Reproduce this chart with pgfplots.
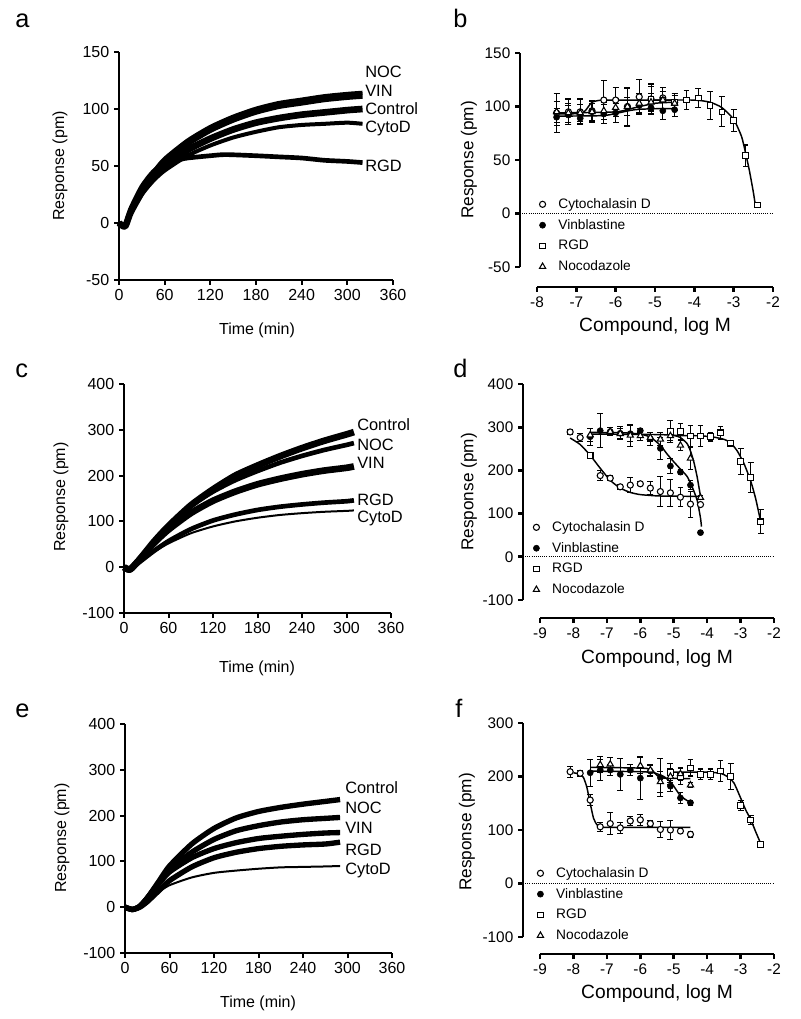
\documentclass[border=0pt]{standalone}
\usepackage{fontspec}
\setmainfont{Liberation Sans}
\usepackage{pgfplots}
\pgfplotsset{compat=1.18}
\pgfplotsset{
  panel/.style={scale only axis, anchor=south west, tick align=outside, major tick length=3.75pt,
    axis line style={line width=1.5pt}, every tick/.style={line width=1.5pt, black},
    tick label style={font=\fontsize{12}{14}\selectfont}, clip=false},
  kin/.style={panel, axis x line*=bottom, axis y line*=left, xmin=0, xmax=360,
    xtick={0,60,...,360}, xticklabels={0,60,120,180,240,300,360}},
  dr/.style={panel, axis x line=none, axis y line*=left, xmax=-2,
    axis line style={line width=2pt}, every tick/.style={line width=2pt, black},
    tick label style={font=\fontsize{11.5}{13}\selectfont},
    legend cell align=left,
    legend style={draw=none, fill=none, font=\fontsize{10.3}{12}\selectfont, row sep=2.7pt, anchor=north west}},
  xax/.style={panel, axis y line=none, axis x line*=bottom, height=1pt, ymin=0, ymax=1, xmax=-2,
    axis line style={line width=2pt}, every tick/.style={line width=2pt, black},
    tick label style={font=\fontsize{11.5}{13}\selectfont}, ytick=\empty},
  band/.style={line width=#1, line join=round, black, smooth, tension=0.4},
  fit/.style={line width=1.1pt, black, forget plot, smooth, tension=0.35},
  zero/.style={densely dotted, line width=0.6pt, black, forget plot},
  eb/.style={error bars/y dir=both, error bars/y explicit,
    error bars/error bar style={line width=0.8pt, black},
    error bars/error mark options={rotate=90, mark size=2.2pt, line width=0.8pt, black}},
  cd/.style={only marks, mark=*, mark size=2.3pt, mark options={fill=white, draw=black, line width=0.8pt}, eb},
  vb/.style={only marks, mark=*, mark size=2.3pt, mark options={fill=black, draw=black}, eb},
  rg/.style={only marks, mark=square*, mark size=2.1pt, mark options={fill=white, draw=black, line width=0.8pt}, eb},
  nc/.style={only marks, mark=triangle*, mark size=2.7pt, mark options={fill=white, draw=black, line width=0.8pt}, eb},
}
\newcommand{\lab}{\fontsize{12.3}{14}\selectfont}
\newcommand{\axl}{\fontsize{12}{14}\selectfont}
\newcommand{\axb}{\fontsize{14.4}{17}\selectfont}
\newcommand{\axr}{\fontsize{12.9}{15}\selectfont}
\newcommand{\lgsp}[1]{\hspace*{7.5pt}#1}
\begin{document}
\begin{tikzpicture}[x=0.75pt,y=-0.75pt]
\useasboundingbox (0,0) rectangle (800,1019);

% ---------------- panel a ----------------
\begin{axis}[kin, at={(89.25pt,-210pt)}, width=205.5pt, height=171pt,
  ymin=-50, ymax=150, ytick={-50,0,50,100,150}, yticklabels={-50,0,50,100,150}]
\addplot[band=5pt] coordinates {(0,0)(8,-3)(15,9)(30,27)(45,40)(60,50)(90,64)(120,74)(150,82)(180,88)(210,92)(240,95)(270,97)(300,99)(320,100)};
\addplot[band=3pt] coordinates {(0,0)(8,-3)(15,8)(30,25)(45,37)(60,46)(90,59)(120,68)(150,75)(180,80)(210,84)(240,86)(270,87)(300,88)(320,87)};
\addplot[band=3.5pt] coordinates {(0,0)(8,-3)(15,12)(30,32)(45,45)(60,52)(75,55)(90,57)(120,59)(140,60)(180,59)(210,58)(240,57)(270,55)(300,54)(320,53)};
\addplot[band=3.5pt] coordinates {(0,0)(8,-3)(15,9)(30,28)(45,42)(60,53)(90,69)(120,81)(150,90)(180,97)(210,102)(240,105)(270,108)(300,110)(320,111)};
\addplot[band=3.5pt] coordinates {(0,0)(8,-3)(15,10)(30,30)(45,44)(60,56)(90,72)(120,84)(150,93)(180,100)(210,105)(240,108)(270,111)(300,113)(320,114)};
\end{axis}

% ---------------- panel b ----------------
\begin{axis}[dr, at={(390pt,-200.25pt)}, width=189.75pt, height=160.5pt,
  xmin=-8.43, ymin=-50, ymax=150, ytick={-50,0,50,100,150}, yticklabels={-50,0,50,100,150},
  legend style={at={(0.06,0.347)}}]
\addplot[zero] coordinates {(-8.43,0)(-2,0)};
\addplot[fit] coordinates {(-7.5,93)(-7.0,93.3)(-6.8,95)(-6.7,99.5)(-6.6,104)(-6.4,105.8)(-6.0,106)(-4.5,106)};
\addplot[fit] coordinates {(-7.5,91)(-6.5,91.3)(-6.2,92)(-6.0,93.5)(-5.8,95)(-5.6,96.5)(-5.4,97.4)(-5.0,97.9)(-4.5,98)};
\addplot[fit] coordinates {(-7.5,94)(-6.0,95)(-5.5,99)(-5.0,103)(-4.5,104)};
\addplot[fit] coordinates {(-5.1,106)(-4.0,106)(-3.6,104)(-3.3,99)(-3.0,88)(-2.8,72)(-2.7,57)(-2.6,40)(-2.5,20)(-2.45,8)};
\addplot[cd] coordinates {(-7.5,94)+-(0,18)(-7.2,95)+-(0,12)(-6.9,95)+-(0,12)(-6.6,96)+-(0,10)(-6.3,106)+-(0,18)(-6.0,106)+-(0,12)(-5.7,100)+-(0,18)(-5.4,109)+-(0,16)(-5.1,107)+-(0,14)(-4.8,108)+-(0,10)(-4.5,104)+-(0,8)};
\addlegendentry{\lgsp{Cytochalasin D}}
\addplot[vb] coordinates {(-7.5,90)+-(0,8)(-7.2,92)+-(0,9)(-6.9,89)+-(0,5)(-6.6,95)+-(0,8)(-6.3,93)+-(0,9)(-6.0,94)+-(0,9)(-5.7,99)+-(0,18)(-5.4,101)+-(0,8)(-5.1,99)+-(0,6)(-4.8,96)+-(0,8)(-4.5,97)+-(0,6)};
\addlegendentry{\lgsp{Vinblastine}}
\addplot[rg] coordinates {(-5.1,107)+-(0,12)(-4.8,106)+-(0,8)(-4.5,104)+-(0,8)(-4.2,106)+-(0,9)(-3.9,108)+-(0,9)(-3.6,101)+-(0,13)(-3.3,95)+-(0,14)(-3.0,87)+-(0,10)(-2.7,54)+-(0,10)(-2.4,8)+-(0,2)};
\addlegendentry{\lgsp{RGD}}
\addplot[nc] coordinates {(-7.5,95)+-(0,10)(-7.2,94)+-(0,9)(-6.9,94)+-(0,8)(-6.6,95)+-(0,10)(-6.3,96)+-(0,8)(-6.0,99)+-(0,8)(-5.7,100)+-(0,8)(-5.4,103)+-(0,9)(-5.1,104)+-(0,8)(-4.8,106)+-(0,8)(-4.5,103)+-(0,7)};
\addlegendentry{\lgsp{Nocodazole}}
\end{axis}
\begin{axis}[xax, at={(402.75pt,-215.25pt)}, width=177pt, xmin=-8,
  xtick={-8,-7,...,-2}, xticklabels={-8,-7,-6,-5,-4,-3,-2}]
\end{axis}

% ---------------- panel c ----------------
\begin{axis}[kin, at={(93pt,-459.75pt)}, width=200.25pt, height=171.75pt,
  ymin=-100, ymax=400, ytick={-100,0,...,400}, yticklabels={-100,0,100,200,300,400}]
\addplot[band=5pt] coordinates {(0,0)(8,-5)(20,15)(40,55)(60,90)(90,135)(120,170)(150,200)(180,222)(210,242)(240,260)(270,276)(300,290)(310,295)};
\addplot[band=3.5pt] coordinates {(0,0)(8,-5)(20,15)(40,55)(60,90)(90,133)(120,165)(150,190)(180,210)(210,228)(240,243)(270,256)(300,267)(310,271)};
\addplot[band=5pt] coordinates {(0,0)(8,-5)(20,15)(40,52)(60,82)(90,118)(120,145)(150,165)(180,181)(210,193)(240,203)(270,211)(300,217)(310,220)};
\addplot[band=3.5pt] coordinates {(0,0)(8,-5)(20,10)(40,35)(60,57)(90,83)(120,102)(150,115)(180,125)(210,132)(240,137)(270,141)(300,144)(310,146)};
\addplot[band=1.5pt] coordinates {(0,0)(8,-5)(20,10)(40,33)(60,52)(90,74)(120,89)(150,100)(180,108)(210,114)(240,118)(270,121)(300,123)(310,124)};
\end{axis}

% ---------------- panel d ----------------
\begin{axis}[dr, at={(392.25pt,-450pt)}, width=188.25pt, height=162pt,
  xmin=-9.51, ymin=-100, ymax=400, ytick={-100,0,...,400}, yticklabels={-100,0,100,200,300,400},
  legend style={at={(0.024,0.39)}}]
\addplot[zero] coordinates {(-9.51,0)(-2,0)};
\addplot[fit] coordinates {(-8.1,275)(-7.8,260)(-7.5,235)(-7.2,205)(-6.9,177)(-6.6,159)(-6.3,149)(-6.0,144)(-5.5,141)(-5.0,140.3)(-4.2,140)};
\addplot[fit] coordinates {(-7.5,288)(-6.5,287)(-6.0,284)(-5.7,277)(-5.4,258)(-5.2,238)(-5.0,220)(-4.8,203)(-4.6,186)(-4.45,162)(-4.3,131)(-4.2,90)(-4.17,70)};
\addplot[fit] coordinates {(-7.5,284)(-5.5,283)(-5.0,281)(-4.8,276)(-4.6,262)(-4.5,245)(-4.4,220)(-4.3,185)(-4.2,140)};
\addplot[fit] coordinates {(-5.1,281)(-4.2,280)(-3.8,277)(-3.5,272)(-3.3,264)(-3.1,245)(-2.9,216)(-2.7,176)(-2.55,135)(-2.4,82)};
\addplot[cd] coordinates {(-8.1,289)+-(0,5)(-7.8,276)+-(0,10)(-7.2,188)+-(0,12)(-6.9,182)+-(0,5)(-6.6,162)+-(0,5)(-6.3,166)+-(0,18)(-6.0,169)+-(0,5)(-5.7,159)+-(0,15)(-5.4,151)+-(0,35)(-5.1,148)+-(0,32)(-4.8,138)+-(0,22)(-4.5,122)+-(0,30)(-4.2,121)+-(0,5)};
\addlegendentry{\lgsp{Cytochalasin D}}
\addplot[vb] coordinates {(-7.5,278)+-(0,20)(-7.2,292)+-(0,40)(-6.9,290)+-(0,10)(-6.6,286)+-(0,15)(-6.3,285)+-(0,18)(-6.0,292)+-(0,5)(-5.7,273)+-(0,15)(-5.4,251)+-(0,25)(-5.1,210)+-(0,18)(-4.8,196)+-(0,5)(-4.5,166)+-(0,10)(-4.2,56)+-(0,5)};
\addlegendentry{\lgsp{Vinblastine}}
\addplot[rg] coordinates {(-5.1,290)+-(0,25)(-4.8,290)+-(0,18)(-4.5,280)+-(0,25)(-4.2,280)+-(0,25)(-3.9,278)+-(0,10)(-3.6,287)+-(0,15)(-3.3,263)+-(0,5)(-3.0,221)+-(0,30)(-2.7,183)+-(0,35)(-2.4,81)+-(0,28)};
\addlegendentry{\lgsp{RGD}}
\addplot[nc] coordinates {(-7.5,282)+-(0,15)(-6.9,290)+-(0,10)(-6.6,285)+-(0,12)(-6.3,281)+-(0,25)(-6.0,280)+-(0,10)(-5.7,276)+-(0,8)(-5.4,272)+-(0,15)(-5.1,280)+-(0,10)(-4.8,258)+-(0,12)(-4.5,228)+-(0,25)(-4.2,137)+-(0,5)};
\addlegendentry{\lgsp{Nocodazole}}
\addplot[rg, forget plot] coordinates {(-7.5,234)+-(0,5)};
\end{axis}
\begin{axis}[xax, at={(405pt,-463.5pt)}, width=175.5pt, xmin=-9,
  xtick={-9,-8,...,-2}, xticklabels={-9,-8,-7,-6,-5,-4,-3,-2}]
\end{axis}

% ---------------- panel e ----------------
\begin{axis}[kin, at={(93.75pt,-714.75pt)}, width=200.25pt, height=171.75pt,
  ymin=-100, ymax=400, ytick={-100,0,...,400}, yticklabels={-100,0,100,200,300,400}]
\addplot[band=4pt] coordinates {(0,0)(10,-5)(20,2)(30,20)(45,55)(60,90)(90,138)(120,172)(150,195)(180,209)(210,218)(240,225)(270,231)(290,235)};
\addplot[band=4pt] coordinates {(0,0)(10,-5)(20,2)(30,20)(45,52)(60,82)(90,120)(120,148)(150,167)(180,178)(210,186)(240,191)(270,194)(290,196)};
\addplot[band=4pt] coordinates {(0,0)(10,-5)(20,2)(30,20)(45,50)(60,77)(90,108)(120,128)(150,141)(180,150)(210,155)(240,159)(270,162)(290,163)};
\addplot[band=4pt] coordinates {(0,0)(10,-5)(20,0)(30,12)(45,35)(60,58)(90,88)(120,108)(150,120)(180,128)(210,133)(240,136)(270,138)(290,142)};
\addplot[band=1.5pt] coordinates {(0,0)(10,-5)(20,3)(30,17)(45,33)(60,48)(90,65)(120,75)(150,80)(180,84)(210,87)(240,88)(270,89)(290,90)};
\end{axis}

% ---------------- panel f ----------------
\begin{axis}[dr, at={(392.25pt,-702.75pt)}, width=188.25pt, height=160.5pt,
  xmin=-9.51, ymin=-100, ymax=300, ytick={-100,0,...,300}, yticklabels={-100,0,100,200,300},
  legend style={at={(0.04,0.352)}}]
\addplot[zero] coordinates {(-9.51,0)(-2,0)};
\addplot[fit] coordinates {(-8.0,207)(-7.8,204)(-7.7,198)(-7.6,180)(-7.5,150)(-7.4,122)(-7.3,110)(-7.2,106)(-7.0,105)(-4.5,105)};
\addplot[fit] coordinates {(-7.5,210)(-6.0,209)(-5.6,207)(-5.3,200)(-5.1,190)(-5.0,182)(-4.8,164)(-4.6,155)(-4.5,152)};
\addplot[fit] coordinates {(-7.5,217)(-5.8,215)(-5.5,202)(-5.3,197)(-4.5,196)};
\addplot[fit] coordinates {(-5.1,208)(-4.0,208)(-3.6,206)(-3.4,200)(-3.2,188)(-3.0,160)(-2.85,138)(-2.7,120)(-2.55,97)(-2.4,75)};
\addplot[cd] coordinates {(-8.1,209)+-(0,10)(-7.8,206)+-(0,5)(-7.5,156)+-(0,10)(-7.2,106)+-(0,8)(-6.9,112)+-(0,20)(-6.6,104)+-(0,10)(-6.3,117)+-(0,8)(-6.0,119)+-(0,10)(-5.7,112)+-(0,5)(-5.4,101)+-(0,15)(-5.1,100)+-(0,18)(-4.8,98)+-(0,5)(-4.5,92)+-(0,6)};
\addlegendentry{\lgsp{Cytochalasin D}}
\addplot[vb] coordinates {(-7.5,207)+-(0,25)(-7.2,212)+-(0,20)(-6.9,212)+-(0,10)(-6.6,204)+-(0,30)(-6.3,212)+-(0,10)(-6.0,197)+-(0,40)(-5.7,210)+-(0,10)(-5.4,198)+-(0,35)(-5.1,182)+-(0,10)(-4.8,160)+-(0,10)(-4.5,151)+-(0,5)};
\addlegendentry{\lgsp{Vinblastine}}
\addplot[rg] coordinates {(-5.1,207)+-(0,18)(-4.8,200)+-(0,15)(-4.5,216)+-(0,15)(-4.2,204)+-(0,10)(-3.9,204)+-(0,10)(-3.6,210)+-(0,20)(-3.3,200)+-(0,25)(-3.0,146)+-(0,10)(-2.7,119)+-(0,8)(-2.4,73)+-(0,5)};
\addlegendentry{\lgsp{RGD}}
\addplot[nc] coordinates {(-7.2,222)+-(0,15)(-6.9,223)+-(0,12)(-6.0,220)+-(0,15)(-5.7,212)+-(0,10)(-5.4,190)+-(0,20)(-5.1,200)+-(0,15)(-4.8,205)+-(0,12)(-4.5,184)+-(0,5)};
\addlegendentry{\lgsp{Nocodazole}}
\end{axis}
\begin{axis}[xax, at={(405pt,-715.5pt)}, width=175.5pt, xmin=-9,
  xtick={-9,-8,...,-2}, xticklabels={-9,-8,-7,-6,-5,-4,-3,-2}]
\end{axis}

% ---------------- text ----------------
\node[anchor=base west, font=\fontsize{19}{22}\selectfont, inner sep=0] at (15,28) {a};
\node[anchor=base west, font=\fontsize{19}{22}\selectfont, inner sep=0] at (453,28) {b};
\node[anchor=base west, font=\fontsize{19}{22}\selectfont, inner sep=0] at (15,377) {c};
\node[anchor=base west, font=\fontsize{19}{22}\selectfont, inner sep=0] at (453,377) {d};
\node[anchor=base west, font=\fontsize{19}{22}\selectfont, inner sep=0] at (15,717) {e};
\node[anchor=base west, font=\fontsize{19}{22}\selectfont, inner sep=0] at (455,717) {f};

\node[font=\axl] at (257,330) {Time (min)};
\node[font=\axl, rotate=90] at (60,166) {Response (pm)};
\node[font=\axl] at (257,668) {Time (min)};
\node[font=\axl, rotate=90] at (61,497) {Response (pm)};
\node[font=\axl] at (258,1003) {Time (min)};
\node[font=\axl, rotate=90] at (62,838) {Response (pm)};

\node[font=\axb] at (655,327) {Compound, log M};
\node[font=\axr, rotate=90] at (469,160) {Response (pm)};
\node[font=\axb] at (657,659) {Compound, log M};
\node[font=\axr, rotate=90] at (469,492) {Response (pm)};
\node[font=\axb] at (657,994) {Compound, log M};
\node[font=\axr, rotate=90] at (467,832) {Response (pm)};

\foreach \t/\yy in {NOC/72,VIN/91,Control/109,CytoD/128,RGD/166}
  \node[font=\lab, anchor=west, inner sep=0] at (365,\yy) {\t};
\foreach \t/\yy in {Control/425,NOC/445,VIN/463,RGD/500,CytoD/518}
  \node[font=\lab, anchor=west, inner sep=0] at (357,\yy) {\t};
\foreach \t/\yy in {Control/788,NOC/808,VIN/828,RGD/850,CytoD/870}
  \node[font=\lab, anchor=west, inner sep=0] at (345,\yy) {\t};
\end{tikzpicture}
\end{document}
